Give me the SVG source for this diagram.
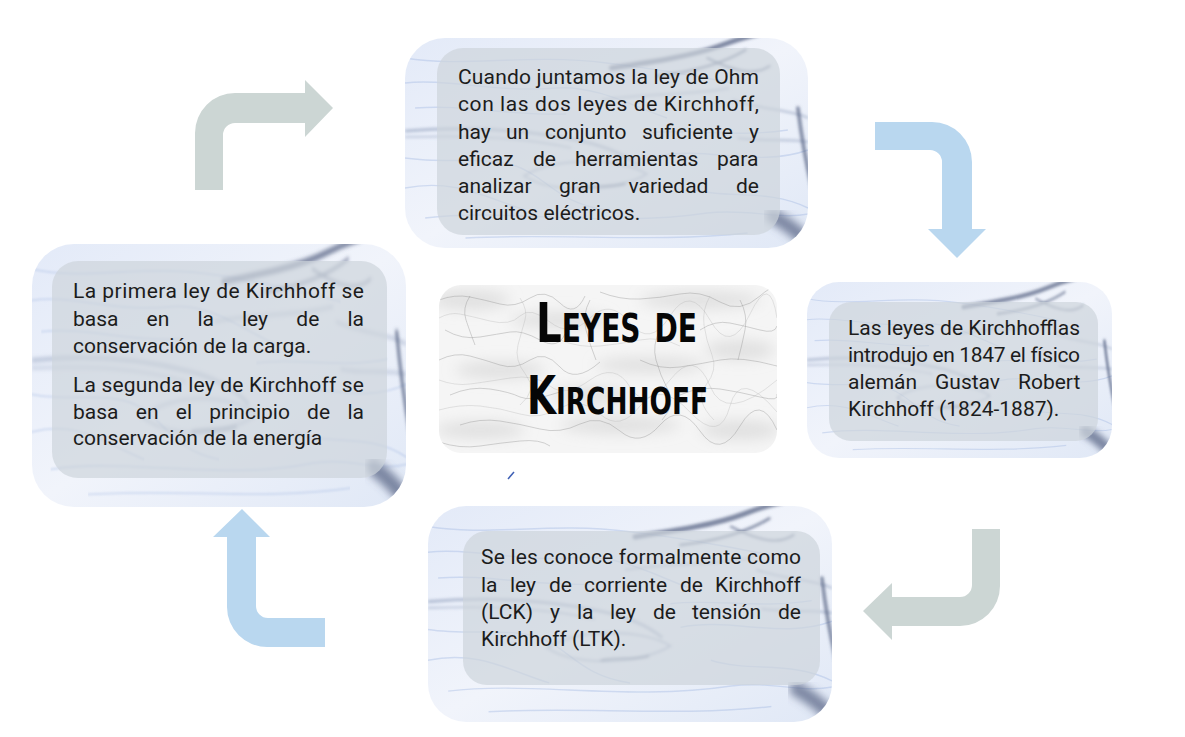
<svg xmlns="http://www.w3.org/2000/svg" width="1185" height="737" viewBox="0 0 1185 737">
<style>
.t{font-family:Roboto,"Liberation Sans",Arial,sans-serif;font-size:21px;font-weight:400;fill:#1C1C1C}
.ttl{font-family:"DejaVu Sans Condensed","DejaVu Sans",sans-serif;font-weight:bold;font-variant:small-caps;fill:#060606}
.inner{fill:#CDD4DB;fill-opacity:0.7}
.ag{fill:#CCD6D4}
.ab{fill:#B9D7EF}
.w{fill:none;stroke:#9FB6E2;stroke-opacity:0.4;stroke-width:1.4}
.g{fill:none;stroke:#7F90B0;stroke-opacity:0.5;stroke-width:3}
.d{fill:none;stroke:#4E5D7D;stroke-opacity:0.7;stroke-linecap:round}
.v{fill:none;stroke:#8A8A8A;stroke-opacity:0.45;stroke-width:0.8}
.v2{fill:none;stroke:#ABABAB;stroke-opacity:0.5;stroke-width:0.6}
</style>
<defs>
<linearGradient id="mbg" x1="0" y1="0" x2="1" y2="1">
<stop offset="0" stop-color="#E3EAF8"/>
<stop offset="0.5" stop-color="#F1F4FB"/>
<stop offset="1" stop-color="#E0E8F6"/>
</linearGradient>
<filter id="b0" x="-10%" y="-10%" width="120%" height="120%"><feGaussianBlur stdDeviation="0.7"/></filter>
<filter id="b1" x="-10%" y="-10%" width="120%" height="120%"><feGaussianBlur stdDeviation="1.6"/></filter>
<filter id="b2" x="-20%" y="-20%" width="140%" height="140%"><feGaussianBlur stdDeviation="4"/></filter>
<filter id="b3" x="-20%" y="-20%" width="140%" height="140%"><feGaussianBlur stdDeviation="7"/></filter>
<symbol id="marble" viewBox="0 0 400 210" preserveAspectRatio="none">
<rect x="0" y="0" width="400" height="210" fill="url(#mbg)"/>
<g class="w" filter="url(#b0)">
<path d="M0,20 C60,30 120,15 200,25 C260,32 300,40 330,46"/>
<path d="M0,45 C40,40 90,55 150,50 C190,47 230,70 260,80"/>
<path d="M20,180 C100,170 200,190 300,175 C340,170 370,182 400,176"/>
<path d="M0,150 C50,140 80,160 120,172"/>
<path d="M250,118 C300,108 350,130 400,112"/>
<path d="M280,150 C320,162 360,150 400,170"/>
<path d="M60,200 C150,195 250,205 340,195"/>
<path d="M0,120 C40,126 80,118 110,128 C140,138 150,165 200,172"/>
<path d="M10,70 C60,66 100,78 160,76"/>
<path d="M240,95 C280,90 330,100 380,92"/>
</g>
<g filter="url(#b1)">
<path class="g" d="M0,93 C60,88 120,92 170,102 C200,108 220,118 232,128"/>
<path class="g" style="stroke-width:1.6" d="M0,99 C70,97 120,100 165,110"/>
<path class="g" style="stroke-width:1.8" d="M118,138 C150,118 215,120 240,136 C215,152 150,158 118,138 Z"/>
<path class="g" style="stroke-width:2.5;stroke-opacity:0.4" d="M195,62 C240,55 280,58 322,50"/>
<path class="g" style="stroke-width:2" d="M325,62 C355,72 385,72 400,80"/>
<path class="g" style="stroke-width:2" d="M330,100 C355,104 380,100 400,104"/>
</g>
<g filter="url(#b1)">
<path class="d" style="stroke-width:5" d="M205,30 C245,24 285,18 312,8 C325,3 338,-1 350,-4"/>
<path class="d" style="stroke-width:2.5" d="M250,38 C285,34 315,26 338,12"/>
<path class="d" style="stroke-width:2" d="M300,20 C320,30 345,40 362,28"/>
<path class="d" style="stroke-width:3.5" d="M390,70 C393,95 397,120 404,150"/>
<path class="d" style="stroke-width:2.5;stroke-opacity:0.5" d="M172,150 C187,147 202,150 218,146"/>
</g>
<path class="d" style="stroke-width:14" filter="url(#b2)" d="M365,178 C380,186 392,196 404,208"/>
</symbol>
<clipPath id="c1"><rect x="405" y="38" width="403" height="210" rx="40"/></clipPath>
<clipPath id="c2"><rect x="32" y="244" width="374" height="263" rx="42"/></clipPath>
<clipPath id="c3"><rect x="807" y="282" width="305" height="176" rx="32"/></clipPath>
<clipPath id="c4"><rect x="428" y="506" width="404" height="216" rx="38"/></clipPath>
<clipPath id="c5"><rect x="439" y="285" width="338" height="168" rx="22"/></clipPath>
</defs>
<rect x="0" y="0" width="1185" height="737" fill="#FFFFFF"/>

<g id="connectors">
<path class="ag" d="M195,190 V133 A40,40 0 0 1 235,93 H305 V80 L333,108 L305,137 V123 H235 A12,12 0 0 0 223,135 V190 Z"/>
<path class="ab" d="M875,122 H932 A40,40 0 0 1 972,162 V229 H986 L957,258 L928,229 H942 V162 A12,12 0 0 0 930,150 H875 Z"/>
<path class="ag" d="M972,529 H1000 V586 A40,40 0 0 1 960,626 H892 V640 L863,611 L892,583 V597 H960 A12,12 0 0 0 972,585 Z"/>
<path class="ab" d="M325,647 H267 A40,40 0 0 1 227,607 V537 H213 L242,509 L270,537 H256 V606 A12,12 0 0 0 268,618 H325 Z"/>
</g>

<g id="node-top">
<g clip-path="url(#c1)"><use href="#marble" x="405" y="38" width="403" height="210"/></g>
<rect class="inner" x="437" y="48" width="343" height="187" rx="26"/>
<text class="t" x="458" y="84" textLength="301" lengthAdjust="spacing">Cuando juntamos la ley de Ohm</text>
<text class="t" x="458" y="111" textLength="301" lengthAdjust="spacing">con las dos leyes de Kirchhoff,</text>
<text class="t" y="139"><tspan x="458">hay</tspan> <tspan x="506">un</tspan> <tspan x="545">conjunto</tspan> <tspan x="642">suficiente</tspan> <tspan x="749">y</tspan></text>
<text class="t" y="166"><tspan x="458">eficaz</tspan> <tspan x="533">de</tspan> <tspan x="575">herramientas</tspan> <tspan x="717">para</tspan></text>
<text class="t" y="193"><tspan x="458">analizar</tspan> <tspan x="559">gran</tspan> <tspan x="628.5">variedad</tspan> <tspan x="736">de</tspan></text>
<text class="t" x="458" y="220">circuitos eléctricos.</text>
</g>

<g id="node-left">
<g clip-path="url(#c2)"><use href="#marble" x="32" y="244" width="374" height="263"/></g>
<rect class="inner" x="52" y="261" width="335" height="217" rx="26"/>
<text class="t" x="73" y="298" textLength="291" lengthAdjust="spacing">La primera ley de Kirchhoff se</text>
<text class="t" y="326"><tspan x="73">basa</tspan> <tspan x="146.6">en</tspan> <tspan x="197.4">la</tspan> <tspan x="242">ley</tspan> <tspan x="296.3">de</tspan> <tspan x="347.4">la</tspan></text>
<text class="t" x="73" y="353">conservación de la carga.</text>
<text class="t" x="73" y="392" textLength="291" lengthAdjust="spacing">La segunda ley de Kirchhoff se</text>
<text class="t" y="419"><tspan x="73">basa</tspan> <tspan x="135.8">en</tspan> <tspan x="175.8">el</tspan> <tspan x="209.3">principio</tspan> <tspan x="307.1">de</tspan> <tspan x="347.4">la</tspan></text>
<text class="t" x="73" y="445">conservación de la energía</text>
</g>

<g id="node-title">
<g clip-path="url(#c5)">
<rect x="439" y="285" width="338" height="168" fill="#F5F5F5"/>
<g filter="url(#b3)" fill="#D0D0D0" fill-opacity="0.55">
<ellipse cx="470" cy="300" rx="40" ry="10"/>
<ellipse cx="560" cy="320" rx="50" ry="8"/>
<ellipse cx="700" cy="300" rx="60" ry="9"/>
<ellipse cx="500" cy="370" rx="45" ry="9"/>
<ellipse cx="650" cy="365" rx="55" ry="8"/>
<ellipse cx="740" cy="350" rx="35" ry="10"/>
<ellipse cx="480" cy="430" rx="45" ry="9"/>
<ellipse cx="620" cy="425" rx="60" ry="9"/>
<ellipse cx="740" cy="430" rx="40" ry="10"/>
<ellipse cx="590" cy="395" rx="40" ry="8"/>
</g>
<g class="v" filter="url(#b0)">
<path d="M439,300 Q455,294 470,297 T500,304 T530,298 T560,303 T585,296"/>
<path d="M600,292 Q620,300 640,299 T680,294 T720,302 T760,296 T777,300"/>
<path d="M445,330 Q462,340 480,337 T510,332 T540,340 T565,334"/>
<path d="M700,330 Q715,320 730,323 T760,330 T777,326"/>
<path d="M439,360 Q455,352 470,356 T500,365 T530,360 T560,367 T600,362"/>
<path d="M640,360 Q660,370 680,367 T720,360 T777,366"/>
<path d="M450,395 Q470,386 490,389 T520,397 T560,392"/>
<path d="M680,395 Q700,386 720,389 T760,397 T777,394"/>
<path d="M460,425 Q480,418 500,421 T540,429 T580,424 T620,431 T660,425 T700,431 T740,426 T777,430"/>
<path d="M439,442 Q460,449 480,446 T520,441 T550,446"/>
<path d="M590,300 Q582,315 586,330 T596,360"/>
<path d="M660,330 Q652,345 656,360 T668,390 T662,420"/>
<path d="M470,296 Q462,308 466,320 T475,345"/>
<path d="M740,300 Q748,315 745,330 T738,360"/>
</g>
<g class="v2" filter="url(#b0)">
<path d="M439,318 Q450,312 460,314 T490,321 T520,316 T550,322 T590,318 T630,323 T670,316 T710,320 T750,314 T777,318"/>
<path d="M439,380 Q455,386 470,384 T510,378 T550,386 T590,380 T630,387 T670,380 T710,386 T777,380"/>
<path d="M439,410 Q460,404 480,406 T520,414 T560,408 T600,414 T640,406 T690,412 T730,406 T777,412"/>
<path d="M520,298 Q528,310 525,320 T518,345 T526,375 T520,405"/>
<path d="M710,296 Q702,310 704,325 T712,355 T706,385 T714,420"/>
<path d="M560,340 Q580,348 600,346 T640,340 T680,346"/>
</g>
</g>
<text class="ttl" x="536" y="342" style="font-size:56px" textLength="161" lengthAdjust="spacingAndGlyphs">Leyes de</text>
<text class="ttl" x="527" y="414" style="font-size:54px" textLength="181" lengthAdjust="spacingAndGlyphs">Kirchhoff</text>
</g>

<g id="node-right">
<g clip-path="url(#c3)"><use href="#marble" x="807" y="282" width="305" height="176"/></g>
<rect class="inner" x="829" y="302" width="269" height="139" rx="22"/>
<text class="t" x="848" y="335" textLength="232" lengthAdjust="spacing">Las leyes de Kirchhofflas</text>
<text class="t" x="848" y="362" textLength="232" lengthAdjust="spacing">introdujo en 1847 el físico</text>
<text class="t" y="389"><tspan x="848">alemán</tspan> <tspan x="935">Gustav</tspan> <tspan x="1018">Robert</tspan></text>
<text class="t" x="848" y="416">Kirchhoff (1824-1887).</text>
</g>

<g id="node-bottom">
<g clip-path="url(#c4)"><use href="#marble" x="428" y="506" width="404" height="216"/></g>
<rect class="inner" x="463" y="531" width="357" height="154" rx="24"/>
<text class="t" x="481" y="564" textLength="320" lengthAdjust="spacing">Se les conoce formalmente como</text>
<text class="t" y="592"><tspan x="481">la</tspan> <tspan x="510">ley</tspan> <tspan x="549">de</tspan> <tspan x="584">corriente</tspan> <tspan x="680">de</tspan> <tspan x="715">Kirchhoff</tspan></text>
<text class="t" y="619"><tspan x="481">(LCK)</tspan> <tspan x="550">y</tspan> <tspan x="577">la</tspan> <tspan x="610">ley</tspan> <tspan x="653">de</tspan> <tspan x="692">tensión</tspan> <tspan x="778">de</tspan></text>
<text class="t" x="481" y="646">Kirchhoff (LTK).</text>
</g>

<line x1="508" y1="479" x2="514" y2="472" stroke="#3E5FB5" stroke-width="1.5"/>
</svg>
